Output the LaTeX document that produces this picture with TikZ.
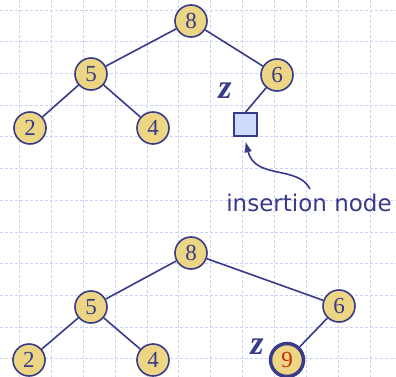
\documentclass[tikz,border=0pt]{standalone}
\usepackage{fontspec}
\setmainfont{Liberation Serif}
\newfontfamily\labelfont{DejaVu Sans}
\usepackage{tikz}
\usetikzlibrary{arrows.meta}
\definecolor{navy}{RGB}{56,58,138}
\definecolor{keyfill}{RGB}{236,214,132}
\definecolor{gridblue}{RGB}{200,211,246}
\definecolor{leaffill}{RGB}{206,219,252}
\definecolor{newkey}{RGB}{200,40,10}
\tikzset{key/.style = {circle, draw = navy, fill = keyfill, line width = 1.6pt,
    minimum size = 32pt, inner sep = 0, text = navy, font = \fontsize{23}{23}\selectfont}}
\tikzset{newnode/.style = {key, line width = 3.5pt, minimum size = 33pt, text = newkey}}
\tikzset{ext/.style = {rectangle, draw = navy, fill = leaffill, line width = 1.6pt,
    minimum size = 23pt, inner sep = 0}}
\tikzset{edge/.style = {navy, line width = 1.6pt}}
\tikzset{zlabel/.style = {text = navy, font = \fontsize{34}{34}\selectfont\bfseries\itshape}}

\begin{document}
\begin{tikzpicture}[x=1pt, y=-1pt]
          \useasboundingbox (0, 0) rectangle (396, 377);
          \fill [white] (0, 0) rectangle (396, 377);

          % background grid
          \foreach \i in {0, ..., 11} {
            \draw [gridblue, line width = 0.8pt, dash pattern = on 3pt off 2pt]
              (19.3 + 31.9 * \i, 0) -- (19.3 + 31.9 * \i, 377);
            \draw [gridblue, line width = 0.8pt, dash pattern = on 3pt off 2pt]
              (0, 10 + 31.7 * \i) -- (396, 10 + 31.7 * \i);
          }

          % before insertion
          \node [key] (a8) at (191, 21) {8};
          \node [key] (a5) at (91, 74) {5};
          \node [key] (a6) at (277, 75) {6};
          \node [key] (a2) at (30, 128) {2};
          \node [key] (a4) at (153, 128) {4};
          \node [ext] (az) at (245.5, 124.5) {};
          \node [zlabel] (zl1) at (225, 91) {z};

          \draw [edge] (a8) -- (a5);
          \draw [edge] (a8) -- (a6);
          \draw [edge] (a5) -- (a2);
          \draw [edge] (a5) -- (a4);
          \draw [edge] (a6) -- (az.north);

          \node [text = navy, font = \labelfont\fontsize{23}{23}\selectfont, anchor = base]
            (ins) at (309, 211.5) {insertion node};
          \coordinate (tail) at (310, 189);
          \draw [edge, -{Latex[length = 11pt, width = 8pt]}]
            (tail) .. controls (298, 165) and (255, 180) .. ([yshift = -4.5pt]az.south);

          % after insertion
          \node [key] (b8) at (191, 253) {8};
          \node [key] (b5) at (91, 307) {5};
          \node [key] (b6) at (339, 306) {6};
          \node [key] (b2) at (29, 360) {2};
          \node [key] (b4) at (153, 360) {4};
          \node [newnode] (b9) at (287, 360) {9};
          \node [zlabel] (zl2) at (257, 347) {z};

          \draw [edge] (b8) -- (b5);
          \draw [edge] (b8) -- (b6);
          \draw [edge] (b5) -- (b2);
          \draw [edge] (b5) -- (b4);
          \draw [edge] (b6) -- (b9);
        \end{tikzpicture}
\end{document}
